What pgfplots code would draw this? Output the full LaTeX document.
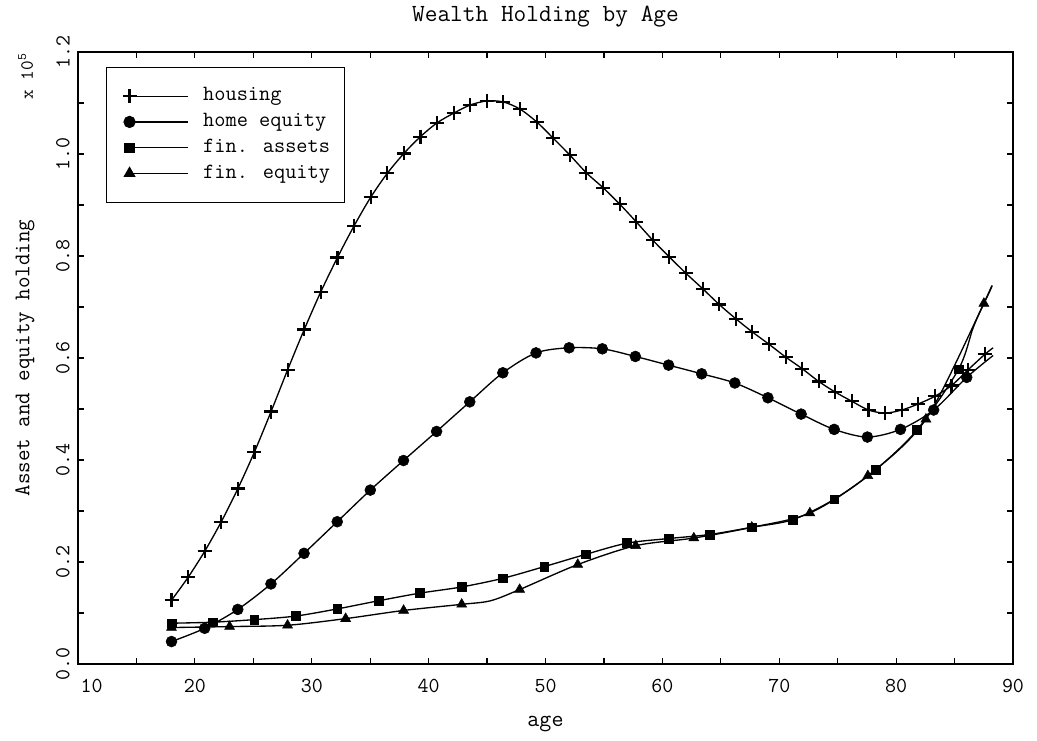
\documentclass[border=0pt]{standalone}
\usepackage{fontspec}
\usepackage{pgfplots}
\usepackage{pgfplotstable}
\pgfplotsset{compat=1.18}
\usetikzlibrary{calc}

\pgfplotstableread{
x y m
18.00 0.125 1
19.42 0.170 1
20.84 0.221 1
22.26 0.279 1
23.68 0.344 1
25.10 0.416 1
26.52 0.495 1
27.94 0.577 1
29.36 0.656 1
30.78 0.730 1
32.20 0.797 1
33.62 0.859 1
35.04 0.915 1
36.46 0.962 1
37.88 1.001 1
39.30 1.034 1
40.72 1.061 1
42.14 1.080 1
43.56 1.096 1
44.98 1.104 1
46.40 1.102 1
47.82 1.088 1
49.24 1.063 1
50.66 1.031 1
52.08 0.998 1
53.50 0.963 1
54.92 0.934 1
56.34 0.902 1
57.76 0.867 1
59.18 0.831 1
60.60 0.798 1
62.02 0.766 1
63.44 0.736 1
64.86 0.705 1
66.28 0.677 1
67.70 0.651 1
69.12 0.627 1
70.54 0.602 1
71.96 0.579 1
73.38 0.554 1
74.80 0.533 1
76.22 0.515 1
77.64 0.498 1
79.06 0.492 1
80.48 0.498 1
81.90 0.510 1
83.32 0.525 1
84.74 0.546 1
86.16 0.577 1
87.58 0.607 1
88.30 0.620 0
}\housing

\pgfplotstableread{
x y m
18.00 0.044 1
20.84 0.070 1
23.67 0.107 1
26.51 0.157 1
29.34 0.217 1
32.18 0.279 1
35.01 0.341 1
37.85 0.399 1
40.68 0.456 1
43.52 0.514 1
46.35 0.571 1
49.19 0.610 1
52.02 0.620 1
54.86 0.618 1
57.69 0.603 1
60.53 0.586 1
63.36 0.569 1
66.20 0.551 1
69.03 0.522 1
71.87 0.490 1
74.70 0.460 1
77.54 0.445 1
80.37 0.460 1
83.21 0.498 1
86.04 0.562 1
88.30 0.605 0
}\homeequity

\pgfplotstableread{
x y m
18.00 0.080 1
21.54 0.082 1
25.09 0.087 1
28.63 0.094 1
32.18 0.108 1
35.72 0.124 1
39.26 0.139 1
42.81 0.151 1
46.35 0.168 1
49.90 0.191 1
53.44 0.215 1
56.98 0.237 1
60.53 0.246 1
64.07 0.254 1
67.62 0.268 1
71.16 0.283 1
74.70 0.323 1
78.25 0.381 1
81.79 0.459 1
85.34 0.578 1
86.60 0.660 0
87.51 0.707 0
88.20 0.742 0
}\finassets

\pgfplotstableread{
x y m
18.00 0.0715 1
22.97 0.0734 1
27.93 0.0760 1
32.90 0.0890 1
37.86 0.1050 1
42.83 0.1170 1
45.30 0.1240 0
47.79 0.1460 1
52.76 0.1950 1
57.72 0.2320 1
62.69 0.2470 1
67.65 0.2680 1
72.62 0.2960 1
77.58 0.3690 1
82.55 0.4800 1
87.51 0.7070 1
88.20 0.7420 0
}\finequity

\begin{document}
\begin{tikzpicture}
\useasboundingbox (-58.5pt,-57pt) rectangle (719.25pt,498pt);
\begin{axis}[
  at={(0pt,0pt)}, anchor=south west,
  scale only axis, width=701.25pt, height=459pt,
  xmin=10, xmax=90, ymin=0, ymax=1.2,
  clip=false,
  xtick={10,20,...,90}, minor xtick={15,25,...,85},
  ytick={0,0.2,0.4,0.6,0.8,1.0,1.2}, minor ytick={0.1,0.3,0.5,0.7,0.9,1.1},
  xticklabels={\makebox[0pt][l]{\hspace{2pt}10},20,30,40,50,60,70,80,90},
  yticklabels={0.0,0.2,0.4,0.6,0.8,1.0,1.2},
  tick align=inside, major tick length=4.5pt, minor tick length=4.5pt,
  tick style={black, line width=0.9pt},
  axis line style={line width=1.8pt},
  /pgf/number format/assume math mode=true,
  xticklabel style={font=\fontsize{16}{18}\selectfont\ttfamily, anchor=north, inner sep=0pt, yshift=-11.25pt},
  yticklabel style={font=\fontsize{16}{18}\selectfont\ttfamily, rotate=90, anchor=south, inner sep=0pt},
  yticklabel shift=6pt,
  legend style={at={(0.02995,0.97549)}, anchor=north west, draw=black,
    line width=0.8pt, inner xsep=10.75pt, inner ysep=14pt,
    /tikz/row sep=4.3pt, /tikz/column sep=10.75pt,
    font=\fontsize{16.3}{19}\selectfont\ttfamily,
    cells={anchor=west},
    nodes={inner sep=0pt, text height=11pt, text depth=4pt}},
  legend image code/.code={
    \pgfpathrectangle{\pgfpoint{-6.5pt}{-3pt}}{\pgfpoint{50.5pt}{6pt}}\pgfusepath{discard}
    \draw[line width=1pt, #1, mark repeat=2, mark phase=1] plot coordinates {(0pt,0pt) (44pt,0pt)};
  },
]
\addlegendimage{black, line width=1pt, mark=+, mark size=5.25pt, mark options={line width=1.6pt}}
\addlegendentry{housing}
\addlegendimage{black, line width=1pt, mark=*, mark size=4.1pt}
\addlegendentry{home equity}
\addlegendimage{black, line width=1pt, mark=square*, mark size=3.3pt}
\addlegendentry{fin. assets}
\addlegendimage{black, line width=1pt, mark=triangle*, mark size=4.3pt}
\addlegendentry{fin. equity}

% lines
\addplot[black, line width=1pt, smooth, no markers, forget plot] table[x=x,y=y] {\housing};
\addplot[black, line width=1pt, smooth, no markers, forget plot] table[x=x,y=y] {\homeequity};
\addplot[black, line width=1pt, smooth, no markers, forget plot] table[x=x,y=y] {\finassets};
\addplot[black, line width=1pt, smooth, no markers, forget plot] table[x=x,y=y] {\finequity};

% markers
\addplot[black, only marks, mark=+, mark size=5.25pt, mark options={line width=1.6pt},
  restrict expr to domain={\thisrow{m}}{0.5:1.5}, forget plot] table[x=x,y=y] {\housing};
\addplot[black, only marks, mark=*, mark size=4.1pt,
  restrict expr to domain={\thisrow{m}}{0.5:1.5}, forget plot] table[x=x,y=y] {\homeequity};
\addplot[black, only marks, mark=square*, mark size=3.3pt,
  restrict expr to domain={\thisrow{m}}{0.5:1.5}, forget plot] table[x=x,y=y] {\finassets};
\addplot[black, only marks, mark=triangle*, mark size=4.3pt,
  restrict expr to domain={\thisrow{m}}{0.5:1.5}, forget plot] table[x=x,y=y] {\finequity};

\node[anchor=base, font=\fontsize{18.5}{20}\selectfont\ttfamily]
  at ($(rel axis cs:0.5,1)+(0pt,22.7pt)$) {Wealth Holding by Age};
\node[anchor=base, font=\fontsize{17.5}{20}\selectfont\ttfamily]
  at ($(rel axis cs:0.5,0)+(0pt,-46.5pt)$) {age};
\node[rotate=90, anchor=base, font=\fontsize{16.8}{19}\selectfont\ttfamily]
  at ($(rel axis cs:0,0.5)+(-36.4pt,0pt)$) {Asset and equity holding};
\node[rotate=90, anchor=base east, inner sep=0pt, font=\fontsize{14}{16}\selectfont\ttfamily]
  at ($(rel axis cs:0,1)+(-33.75pt,-0.75pt)$) {x 10\textsuperscript{5}};
\end{axis}
\end{tikzpicture}
\end{document}
